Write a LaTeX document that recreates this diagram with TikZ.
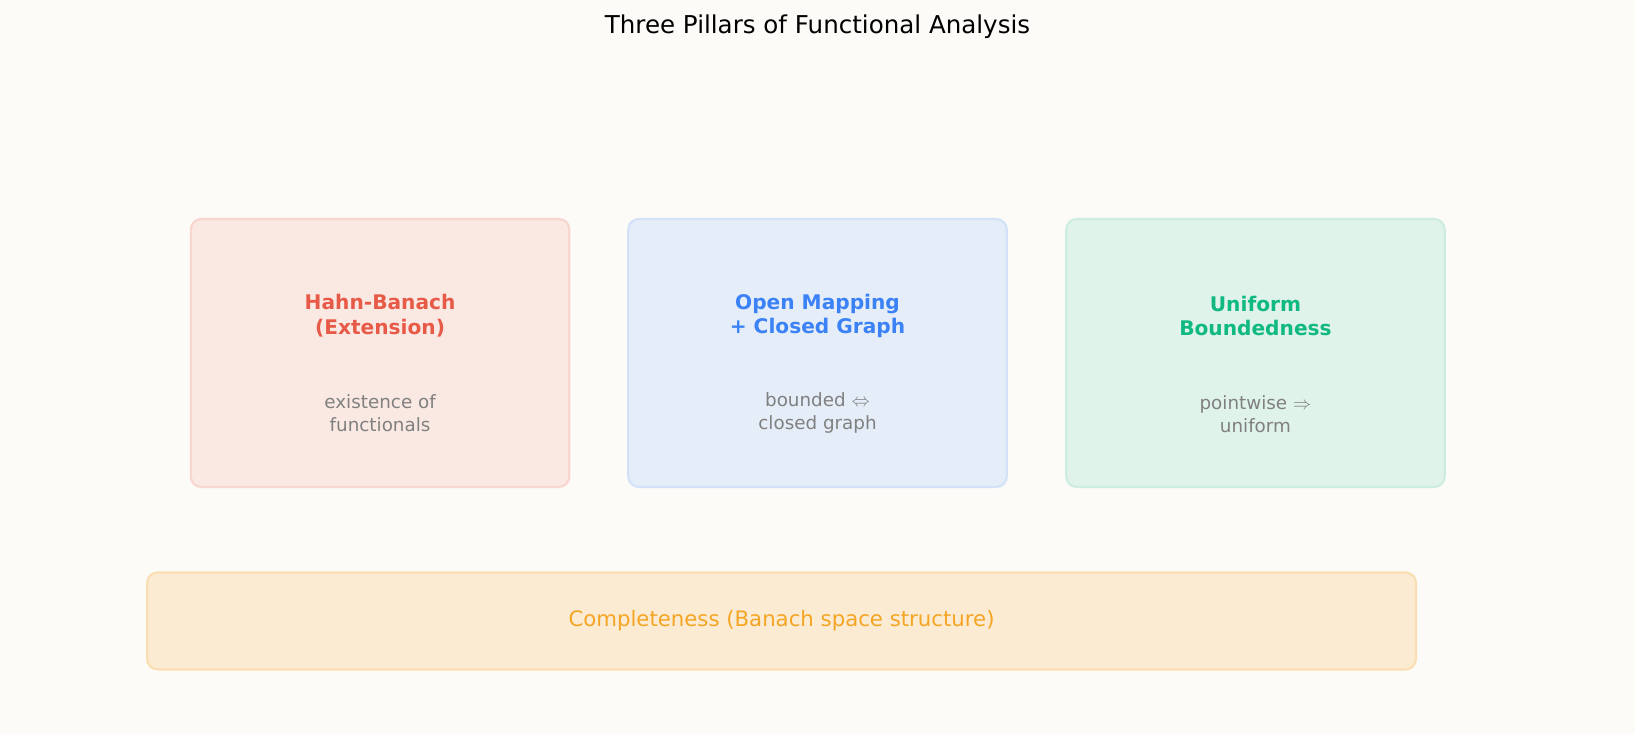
\documentclass[tikz,border=0pt]{standalone}
\usepackage{fontspec}
\setmainfont{DejaVu Sans}
\usetikzlibrary{positioning}
\definecolor{bg}{HTML}{FDFBF7}
\definecolor{redfill}{HTML}{FAE9E3}\definecolor{reddraw}{HTML}{F8D6CF}\definecolor{redtext}{HTML}{E85A48}
\definecolor{bluefill}{HTML}{E5EDF8}\definecolor{bluedraw}{HTML}{D4E2F8}\definecolor{bluetext}{HTML}{3B82F6}
\definecolor{greenfill}{HTML}{DFF3EA}\definecolor{greendraw}{HTML}{CDEDDF}\definecolor{greentext}{HTML}{10B981}
\definecolor{orangefill}{HTML}{FBEBD3}\definecolor{orangedraw}{HTML}{FADEB4}\definecolor{orangetext}{HTML}{F5A524}
\definecolor{subtext}{HTML}{808080}

\begin{document}
\begin{tikzpicture}[
    x=0.02cm, y=-0.02cm,
    pillar/.style={rectangle, rounded corners=0.2cm, line width=1.2pt,
        minimum width=7.26cm, minimum height=5.14cm},
    heading/.style={font=\bfseries\fontsize{11}{13.5}\selectfont, align=center},
    note/.style={text=subtext, font=\fontsize{10}{12.5}\selectfont, align=center}
]

    % Background ------------------------------------------------

    \fill[bg] (0,0) rectangle (1568,704);
    \node[font=\fontsize{13.4}{16}\selectfont] (title) at (784,26) {Three Pillars of Functional Analysis};

    % Pillars ---------------------------------------------------

    \node[pillar, fill=redfill, draw=reddraw] (hb) at (364.5,338.5) {};
    \node[pillar, fill=bluefill, draw=bluedraw] (om) at (784,338.5) {};
    \node[pillar, fill=greenfill, draw=greendraw] (ub) at (1204,338.5) {};

    % labels
    \node[heading, text=redtext] (hb_title) at (364.5,303) {Hahn-Banach\\(Extension)};
    \node[heading, text=bluetext] (om_title) at (784,303) {Open Mapping\\+ Closed Graph};
    \node[heading, text=greentext] (ub_title) at (1204,303) {Uniform\\Boundedness};

    \node[note] (hb_note) at (364.5,396) {existence of\\functionals};
    \node[note] (om_note) at (784,396) {bounded $\Leftrightarrow$\\closed graph};
    \node[note] (ub_note) at (1204,397) {pointwise $\Rightarrow$\\uniform};

    % Foundation ------------------------------------------------

    \node[rectangle, rounded corners=0.2cm, line width=1.2pt, fill=orangefill, draw=orangedraw,
        minimum width=24.34cm, minimum height=1.86cm, text=orangetext,
        font=\fontsize{11.6}{14}\selectfont] (base) at (749.5,595.5) {Completeness (Banach space structure)};

\end{tikzpicture}
\end{document}
